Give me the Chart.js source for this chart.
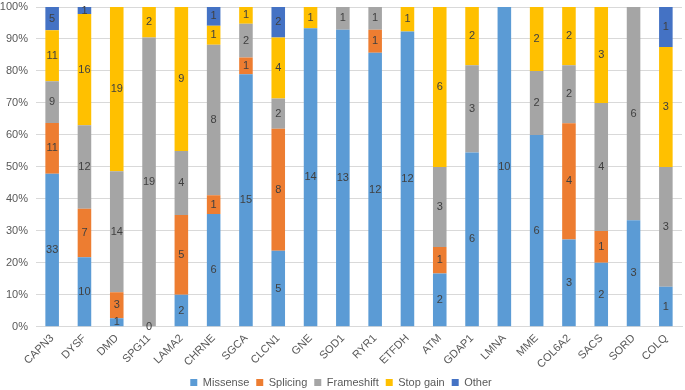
<!DOCTYPE html>
<html>
<head>
<meta charset="utf-8">
<script src="https://cdn.jsdelivr.net/npm/chart.js@4.4.1/dist/chart.umd.min.js"></script>
<style>
  html, body { margin: 0; padding: 0; background: #fff; }
  #wrap { width: 685px; height: 390px; }
</style>
</head>
<body>
<div id="wrap"><canvas id="chart" width="685" height="390"></canvas></div>
<script>
// ---------- DATA ----------
const genes = ["CAPN3", "DYSF", "DMD", "SPG11", "LAMA2", "CHRNE", "SGCA", "CLCN1", "GNE", "SOD1",
  "RYR1", "ETFDH", "ATM", "GDAP1", "LMNA", "MME", "COL6A2", "SACS", "SORD", "COLQ"];

const missense   = [33, 10, 1, 0, 2, 6, 15, 5, 14, 13, 12, 12, 2, 6, 10, 6, 3, 2, 3, 1];
const splicing   = [11, 7, 3, null, 5, 1, 1, 8, null, null, 1, null, 1, null, null, null, 4, 1, null, null];
const frameshift = [9, 12, 14, 19, 4, 8, 2, 2, null, 1, 1, null, 3, 3, null, 2, 2, 4, 6, 3];
const stopGain   = [11, 16, 19, 2, 9, 1, 1, 4, 1, null, null, 1, 6, 2, null, 2, 2, 3, null, 3];
const other      = [5, 1, null, null, null, 1, null, 2, null, null, null, null, null, null, null, null, null, null, null, 1];

const yTicks = [0, 10, 20, 30, 40, 50, 60, 70, 80, 90, 100];

// ---------- COLORS ----------
const COLORS = {
  missense: "#5B9BD5",
  splicing: "#ED7D31",
  frameshift: "#A5A5A5",
  stopGain: "#FFC000",
  other: "#4472C4",
  text: "#595959",
  label: "#404040",
  grid: "#D9D9D9"
};

const FONT = "'Liberation Sans', Arial, sans-serif";

// ---------- HELPERS ----------
const series = [missense, splicing, frameshift, stopGain, other];
const totals = genes.map((_, i) => series.reduce((s, arr) => s + (arr[i] || 0), 0));

function toPercent(arr) {
  return arr.map((v, i) => (v === null ? null : (v / totals[i]) * 100));
}

function makeSet(label, counts, color) {
  return {
    label,
    data: toPercent(counts),
    counts,
    backgroundColor: color,
    borderWidth: 0,
    barPercentage: 0.42,
    categoryPercentage: 1.0
  };
}

// draws the counts in the middle of each segment
const countLabels = {
  id: "countLabels",
  afterDatasetsDraw(chart) {
    const ctx = chart.ctx;
    ctx.save();
    ctx.font = "11px " + FONT;
    ctx.fillStyle = COLORS.label;
    ctx.textAlign = "center";
    ctx.textBaseline = "middle";
    chart.data.datasets.forEach((ds, di) => {
      const meta = chart.getDatasetMeta(di);
      meta.data.forEach((el, i) => {
        const c = ds.counts[i];
        if (c === null || c === undefined) return;
        let y = (el.y + el.base) / 2;
        if (c === 0) y = el.base;
        ctx.fillText(String(c), el.x, y);
      });
    });
    ctx.restore();
  }
};

// ---------- CHART ----------
new Chart(document.getElementById("chart"), {
  type: "bar",
  data: {
    labels: genes,
    datasets: [
      makeSet("Missense", missense, COLORS.missense),
      makeSet("Splicing", splicing, COLORS.splicing),
      makeSet("Frameshift", frameshift, COLORS.frameshift),
      makeSet("Stop gain", stopGain, COLORS.stopGain),
      makeSet("Other", other, COLORS.other)
    ]
  },
  options: {
    responsive: false,
    animation: false,
    layout: { padding: { left: 0, right: 3, top: 7, bottom: -8 } },
    scales: {
      x: {
        stacked: true,
        grid: { display: false, drawTicks: false },
        border: { display: true, color: COLORS.grid },
        afterFit(scale) { scale.height -= 6; },
        ticks: {
          color: COLORS.text,
          padding: 5,
          font: { family: FONT, size: 11 },
          minRotation: 45,
          maxRotation: 45,
          autoSkip: false
        }
      },
      y: {
        stacked: true,
        min: 0,
        max: 100,
        afterBuildTicks(scale) {
          scale.ticks = yTicks.map(v => ({ value: v }));
        },
        afterFit(scale) {
          scale.width = 36;
          scale.paddingTop = 0;
        },
        grid: { color: COLORS.grid, drawTicks: false },
        border: { display: false },
        ticks: {
          color: COLORS.text,
          padding: 8,
          font: { family: FONT, size: 11 },
          callback: v => v + "%"
        }
      }
    },
    plugins: {
      legend: {
        position: "bottom",
        labels: {
          color: COLORS.text,
          font: { family: FONT, size: 11 },
          boxWidth: 7,
          boxHeight: 7,
          padding: 7
        }
      },
      tooltip: { enabled: false }
    }
  },
  plugins: [countLabels]
});
</script>
</body>
</html>
